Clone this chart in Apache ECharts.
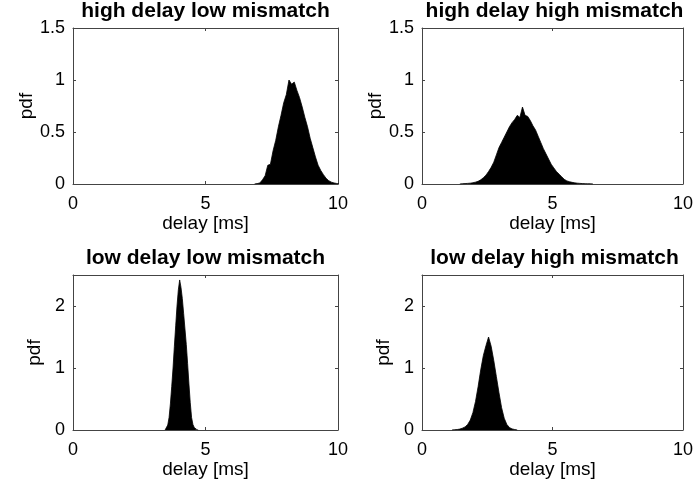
<!DOCTYPE html>
<html lang="en">
<head>
    <meta charset="UTF-8">
    <script src="https://cdn.jsdelivr.net/npm/echarts@6/dist/echarts.min.js"></script>
    <style>
        html, body {
            margin: 0;
            padding: 0;
            background: #ffffff;
        }

        #chart {
            width: 696px;
            height: 495px;
        }
    </style>
</head>
<body>
<div id="chart"></div>
<script type="text/javascript">
    // panel titles, top-left, top-right, bottom-left, bottom-right
    const titles = ['high delay low mismatch', 'high delay high mismatch', 'low delay low mismatch', 'low delay high mismatch'];
    const xTicks = [0, 5, 10];
    const yMaxTop = 1.5, yStepTop = 0.5;
    const yMaxBottom = 2.5, yStepBottom = 1;

    // histogram bins: first bin centre, bin width, pdf per bin
    const hdlmStart = 6.95, hdlmWidth = 0.1;
    const hdlmPdf = [0.004, 0.01, 0.04, 0.08, 0.18, 0.19, 0.32, 0.42, 0.55, 0.66, 0.78, 0.86, 1.0, 0.96, 0.98, 0.9,
        0.83, 0.74, 0.64, 0.55, 0.44, 0.35, 0.26, 0.18, 0.13, 0.09, 0.055, 0.032, 0.018, 0.01, 0.005];

    const hdhmStart = 1.55, hdhmWidth = 0.1;
    const hdhmPdf = [0.003, 0.004, 0.006, 0.008, 0.012, 0.018, 0.026, 0.04, 0.06, 0.085, 0.12, 0.16, 0.21, 0.28, 0.35,
        0.4, 0.45, 0.5, 0.55, 0.59, 0.62, 0.66, 0.64, 0.74, 0.66, 0.65, 0.61, 0.56, 0.52, 0.46, 0.4, 0.34, 0.29, 0.24,
        0.19, 0.155, 0.12, 0.095, 0.07, 0.045, 0.03, 0.022, 0.016, 0.011, 0.008, 0.006, 0.004, 0.003, 0.002, 0.002];

    const ldlmStart = 3.525, ldlmWidth = 0.05;
    const ldlmPdf = [0.02, 0.08, 0.2, 0.42, 0.7, 1.0, 1.35, 1.68, 2.0, 2.26, 2.42, 2.3, 2.12, 1.88, 1.63, 1.38, 1.07,
        0.74, 0.44, 0.2, 0.09, 0.04, 0.015, 0.006];

    const ldhmStart = 1.25, ldhmWidth = 0.1;
    const ldhmPdf = [0.005, 0.008, 0.015, 0.03, 0.05, 0.09, 0.16, 0.28, 0.46, 0.7, 0.97, 1.2, 1.36, 1.5, 1.35, 1.12,
        0.86, 0.6, 0.36, 0.19, 0.09, 0.04, 0.018, 0.008];

    const chart = echarts.init(document.getElementById('chart'));
    const font = '"Liberation Sans", Arial, Helvetica, sans-serif';
    const boxColor = '#444444';

    // bin centres -> points, closed to zero on both ends
    function histPoints(start, width, pdf) {
        const pts = [[start - width, 0]];
        pdf.forEach(function (v, i) {
            pts.push([start + i * width, v]);
        });
        pts.push([start + pdf.length * width, 0]);
        return pts;
    }

    const grids = [
        {left: 73, top: 28, width: 265, height: 156},
        {left: 422, top: 28, width: 265, height: 156},
        {left: 73, top: 275, width: 265, height: 155},
        {left: 422, top: 275, width: 265, height: 155}
    ];
    const titleTops = [1, 1, 248, 248];
    const hists = [
        histPoints(hdlmStart, hdlmWidth, hdlmPdf),
        histPoints(hdhmStart, hdhmWidth, hdhmPdf),
        histPoints(ldlmStart, ldlmWidth, ldlmPdf),
        histPoints(ldhmStart, ldhmWidth, ldhmPdf)
    ];

    const xAxes = [], yAxes = [], series = [], titleList = [];

    grids.forEach(function (g, i) {
        const top = i < 2;
        const yMax = top ? yMaxTop : yMaxBottom;
        const yStep = top ? yStepTop : yStepBottom;

        titleList.push({
            text: titles[i],
            left: g.left + g.width / 2,
            top: titleTops[i],
            textAlign: 'center',
            padding: 0,
            textStyle: {fontFamily: font, fontSize: 21, fontWeight: 'bold', color: '#000'}
        });

        ['bottom', 'top'].forEach(function (pos) {
            xAxes.push({
                type: 'value',
                gridIndex: i,
                position: pos,
                min: xTicks[0],
                max: xTicks[xTicks.length - 1],
                interval: xTicks[1] - xTicks[0],
                axisLine: {show: true, onZero: false, lineStyle: {color: boxColor, width: 1}},
                axisTick: {show: true, inside: true, length: 3, lineStyle: {color: boxColor}},
                axisLabel: {show: pos === 'bottom', margin: 11, fontSize: 18, fontFamily: font, color: '#000'},
                splitLine: {show: false},
                name: pos === 'bottom' ? 'delay [ms]' : '',
                nameLocation: 'middle',
                nameGap: 30,
                nameTextStyle: {fontSize: 19, fontFamily: font, color: '#000'}
            });
        });

        ['left', 'right'].forEach(function (pos) {
            yAxes.push({
                type: 'value',
                gridIndex: i,
                position: pos,
                min: 0,
                max: yMax,
                interval: yStep,
                axisLine: {show: true, onZero: false, lineStyle: {color: boxColor, width: 1}},
                axisTick: {show: true, inside: true, length: 3, lineStyle: {color: boxColor}},
                axisLabel: {
                    show: pos === 'left', margin: 8, fontSize: 18, fontFamily: font, color: '#000',
                    showMaxLabel: top
                },
                splitLine: {show: false},
                name: pos === 'left' ? 'pdf' : '',
                nameLocation: 'middle',
                nameGap: 29,
                nameTextStyle: {fontSize: 19, fontFamily: font, color: '#000'}
            });
        });

        series.push({
            type: 'line',
            xAxisIndex: i * 2,
            yAxisIndex: i * 2,
            symbol: 'none',
            silent: true,
            animation: false,
            lineStyle: {color: '#000', width: 0.8},
            areaStyle: {color: '#000', opacity: 1},
            data: hists[i]
        });
    });

    chart.setOption({
        backgroundColor: '#ffffff',
        animation: false,
        title: titleList,
        grid: grids,
        xAxis: xAxes,
        yAxis: yAxes,
        series: series
    });
</script>
</body>
</html>
